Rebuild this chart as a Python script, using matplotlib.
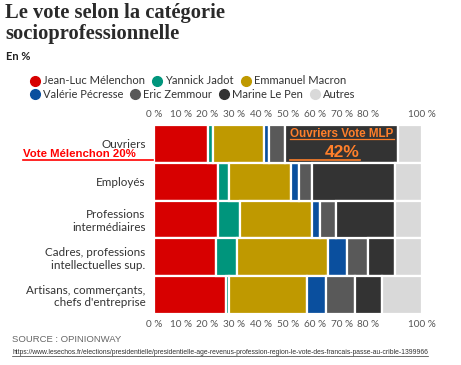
import matplotlib
matplotlib.use('Agg')
import matplotlib.pyplot as plt
import numpy as np
from matplotlib.lines import Line2D

# données (en %)
categories = ['Ouvriers', 'Employés', 'Professions\nintermédiaires',
              'Cadres, professions\nintellectuelles sup.',
              'Artisans, commerçants,\nchefs d\'entreprise']
candidats = ['Jean-Luc Mélenchon', 'Yannick Jadot', 'Emmanuel Macron',
             'Valérie Pécresse', 'Eric Zemmour', 'Marine Le Pen', 'Autres']
melenchon = [20, 24, 24, 23, 27]
jadot = [2, 4, 8, 8, 1]
macron = [19, 23, 27, 34, 29]
pecresse = [2, 3, 3, 7, 7]
zemmour = [6, 5, 6, 8, 11]
lepen = [42, 31, 22, 10, 10]
autres = [9, 10, 10, 10, 15]
series = [melenchon, jadot, macron, pecresse, zemmour, lepen, autres]
couleurs = ['#d70000', '#00957c', '#bf9900', '#0a4f9e', '#595959', '#333333', '#d9d9d9']
ticks = [0, 10, 20, 30, 40, 50, 60, 70, 80, 90, 100]
tick_labels = ['0 %', '10 %', '20 %', '30 %', '40 %', '50 %', '60 %', '70 %', '80 %', '', '100 %']

W, H = 461, 365
fig = plt.figure(figsize=(W / 100, H / 100), dpi=100)
plt.rcParams['font.family'] = ['Lato', 'DejaVu Sans']


def fx(x):
    return x / W


def fy(y):
    return 1 - y / H


ax = fig.add_axes([fx(154), fy(314), fx(422) - fx(154), fy(125) - fy(314)])
y = np.arange(len(categories))
left = np.zeros(len(categories))
for vals, c in zip(series, couleurs):
    ax.barh(y, vals, left=left, height=1.0, color=c, edgecolor='white', linewidth=1.6, zorder=2)
    left += np.array(vals)

ax.set_xlim(0, 100)
ax.set_ylim(len(categories) - 0.5, -0.5)
ax.set_xticks(ticks)
ax.set_xticklabels(tick_labels)
ax.tick_params(axis='x', which='both', top=True, labeltop=True, length=0,
               labelsize=7.2, labelcolor='#555555', pad=4)
ax.set_yticks(y)
ax.set_yticklabels(categories, fontsize=8.4, color='#333333', linespacing=1.15)
ax.tick_params(axis='y', length=0, pad=6)
ax.grid(axis='x', color='#e6e6e6', linewidth=0.6, zorder=0)
for s in ax.spines.values():
    s.set_visible(False)

# titre
fig.text(fx(5), fy(3), 'Le vote selon la catégorie\nsocioprofessionnelle',
         family='Liberation Serif', fontweight='bold', fontsize=14.8, color='#2a2a2a', va='top',
         linespacing=1.1)
fig.text(fx(6), fy(56), 'En %', fontsize=8, fontweight='bold', color='#222222', va='center')

# légende
rows = [[0, 1, 2], [3, 4, 5, 6]]
fig.canvas.draw()
r = fig.canvas.get_renderer()
for ri, row in enumerate(rows):
    x = 35
    yy = 81 + ri * 13
    for i in row:
        fig.add_artist(Line2D([fx(x)], [fy(yy)], marker='o', markersize=7,
                              color=couleurs[i], linestyle='none'))
        t = fig.text(fx(x + 8), fy(yy), candidats[i], fontsize=8.0, color='#333333',
                     va='center', ha='left')
        bb = t.get_window_extent(renderer=r)
        x = x + 8 + bb.width + 12

# annotation Mélenchon
fig.text(fx(23), fy(154), 'Vote Mélenchon 20%', family='Liberation Sans', fontweight='bold',
         fontsize=8.2, color='#ff0000', va='center', ha='left')
fig.add_artist(Line2D([fx(23), fx(153)], [fy(160), fy(160)], color='#ff0000', linewidth=1.2))

# annotation Le Pen
orange = '#ff7f2a'
fig.text(fx(342), fy(134), 'Ouvriers Vote MLP', family='Liberation Sans', fontweight='bold',
         fontsize=8.4, color=orange, va='center', ha='center')
fig.add_artist(Line2D([fx(290), fx(394)], [fy(139.5), fy(139.5)], color=orange, linewidth=0.9))
fig.text(fx(342), fy(152), '42%', family='Liberation Sans', fontweight='bold',
         fontsize=12.5, color=orange, va='center', ha='center')
fig.add_artist(Line2D([fx(290), fx(360)], [fy(160), fy(160)], color=orange, linewidth=1.2))

# source
fig.text(fx(12), fy(339), 'SOURCE : OPINIONWAY', family='Liberation Sans', fontsize=6.8,
         color='#666666', va='center')
url = ('https://www.lesechos.fr/elections/presidentielle/presidentielle-age-revenus-profession'
       '-region-le-vote-des-francais-passe-au-crible-1399966')
tu = fig.text(fx(12), fy(352), url, family='Liberation Sans', fontsize=4.88,
              color='#333333', va='center')
bb = tu.get_window_extent(renderer=r)
fig.add_artist(Line2D([fx(12), fx(12 + bb.width)], [fy(355.5), fy(355.5)], color='#333333',
                      linewidth=0.5))

fig.savefig('out.png', dpi=100)
